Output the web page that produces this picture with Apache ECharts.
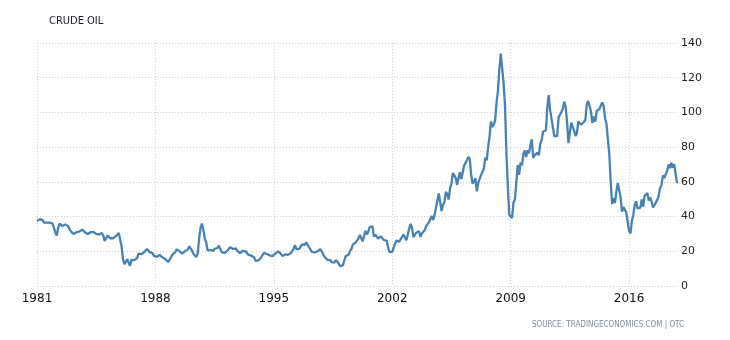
<!DOCTYPE html>
<html>
<head>
<meta charset="utf-8">
<script src="https://cdn.jsdelivr.net/npm/echarts@6/dist/echarts.min.js"></script>
<style>
html, body { margin: 0; padding: 0; background: #fff; }
#main { width: 730px; height: 340px; }
</style>
</head>
<body>
<div id="main"></div>
<script>
// monthly average prices, Jan 1981 .. Nov 2018
var startYear = 1981;
var prices1980s = [
    37.5, 38.5, 38.5, 38.5, 38, 36.5, 36.5, 36.5, 36.5, 36.5, 36.5, 36,
    35, 31, 29, 33.5, 36, 35.5, 34.5, 34.5, 35.5, 35.5, 34.5, 33,
    31.5, 30.5, 30, 30.5, 31, 31.3, 31.3, 32, 32.5, 31.8, 31, 30.5,
    30, 30.5, 31, 31, 31.2, 30.8, 30, 29.6, 29.6, 30, 30.5, 29,
    26, 27.5, 29, 28.5, 27.5, 27, 27.5, 28, 28.7, 29.5, 30.5, 31,
    22.9, 15.5, 12.6, 12.8, 15.4, 13.4, 11.6, 15.1, 14.9, 14.9, 15.2, 16.1,
    18.7, 17.8, 18.3, 18.7, 19.4, 20.1, 21.3, 20.3, 19.5, 19.9, 18.9, 17.3,
    17.1, 16.8, 16.2, 17.9, 17.4, 16.5, 15.5, 15.5, 14.5, 13.8, 14.1, 16.4,
    18.0, 17.9, 19.5, 21.1, 20.1, 20.1, 19.8, 18.6, 19.6, 20.1, 19.9, 21.1
];
var prices1990s = [
    22.9, 22.1, 20.4, 18.4, 18.2, 16.7, 18.5, 27.3, 33.5, 36.0, 32.3, 27.3,
    25.2, 20.5, 19.9, 20.8, 21.2, 20.2, 21.4, 21.7, 21.9, 23.2, 22.5, 19.5,
    18.8, 19.0, 18.9, 20.2, 21.0, 22.4, 21.8, 21.3, 21.9, 21.7, 20.3, 19.4,
    19.0, 20.1, 20.3, 20.3, 20.0, 19.1, 17.9, 18.0, 17.5, 18.2, 16.6, 14.5,
    15.0, 14.8, 14.7, 16.4, 17.9, 19.1, 19.7, 18.4, 17.5, 17.7, 18.1, 17.2,
    18.0, 18.6, 18.5, 19.9, 19.7, 18.5, 17.3, 18.0, 18.2, 17.4, 18.0, 19.0,
    18.9, 19.1, 21.3, 23.5, 21.2, 20.4, 21.3, 21.9, 24.0, 24.9, 23.7, 25.2,
    25.1, 22.2, 21.0, 19.7, 20.8, 19.3, 19.7, 20.0, 19.8, 21.3, 20.2, 18.3,
    16.7, 16.1, 15.1, 15.4, 14.9, 13.7, 14.2, 13.5, 15.0, 14.5, 13.0, 11.4,
    12.5, 12.0, 14.7, 17.3, 17.7, 17.9, 20.1, 21.3, 23.8, 22.7, 25.0, 26.1
];
var prices2000s = [
    27.3, 29.4, 29.8, 25.7, 28.8, 31.8, 29.7, 31.3, 33.9, 33.1, 34.4, 28.4,
    29.6, 29.6, 27.3, 27.5, 28.6, 27.6, 26.4, 27.4, 26.2, 22.2, 19.6, 19.4,
    19.7, 20.7, 24.5, 26.2, 27.0, 25.5, 27.0, 28.4, 29.7, 28.8, 26.4, 29.5,
    33.0, 35.8, 33.5, 28.2, 28.1, 30.7, 30.8, 31.6, 28.3, 30.3, 31.1, 32.1,
    34.3, 34.7, 36.7, 36.8, 40.3, 38.0, 40.8, 44.9, 45.9, 53.3, 48.5, 43.2,
    46.8, 48.2, 54.2, 53.0, 49.8, 56.4, 59.0, 65.0, 65.6, 62.3, 58.3, 59.4,
    65.5, 61.6, 62.7, 69.4, 70.8, 71.0, 74.4, 73.0, 63.8, 58.9, 59.1, 62.0,
    54.5, 59.3, 60.4, 64.0, 63.5, 67.5, 74.1, 72.4, 79.9, 85.8, 94.8, 91.7,
    93.0, 95.4, 105.6, 112.6, 125.4, 133.9, 133.4, 116.6, 103.9, 76.7, 57.4, 41.0,
    41.7, 39.2, 48.0, 49.8, 59.2, 69.7, 64.1, 71.1, 69.5, 75.8, 78.1, 74.3
];
var prices2010s = [
    78.2, 76.4, 81.2, 84.5, 73.8, 75.4, 76.4, 76.8, 75.3, 81.9, 84.1, 89.0,
    89.4, 89.6, 102.9, 110.0, 101.3, 96.3, 97.3, 86.3, 85.5, 86.3, 97.2, 98.6,
    100.3, 102.2, 106.2, 103.3, 94.7, 82.3, 87.9, 94.1, 94.5, 89.5, 86.5, 87.9,
    94.8, 95.3, 92.9, 92.0, 94.5, 95.8, 104.7, 106.6, 106.3, 100.5, 93.9, 97.6,
    94.6, 100.8, 100.8, 102.1, 102.2, 105.8, 103.6, 96.5, 93.2, 84.4, 75.8, 59.3,
    47.2, 50.6, 47.8, 54.5, 59.3, 59.8, 50.9, 42.9, 45.5, 46.2, 42.4, 37.2,
    31.7, 30.3, 37.6, 40.8, 46.7, 48.8, 44.7, 44.7, 45.2, 49.8, 45.7, 52.0,
    52.5, 53.5, 49.3, 51.1, 48.5, 45.2, 46.6, 48.0, 49.8, 51.6, 56.6, 57.9,
    63.7, 62.2, 62.7, 66.3, 70.0, 67.9, 71.0, 68.1, 70.2, 70.8, 59.3
];
var yTicks = [0, 20, 40, 60, 80, 100, 120, 140];
var yearStep = 7;

var allPrices = prices1980s.concat(prices1990s, prices2000s, prices2010s);
var seriesData = allPrices.map(function (v, i) {
    return [startYear + i / 12, v];
});
var lastX = seriesData[seriesData.length - 1][0];

var myChart = echarts.init(document.getElementById('main'));
var option = {
    backgroundColor: '#ffffff',
    animation: false,
    title: {
        text: 'CRUDE OIL',
        left: 44,
        top: 11,
        textStyle: {
            fontFamily: 'DejaVu Sans Condensed',
            fontSize: 11,
            fontWeight: 'normal',
            color: '#1d1d2b'
        }
    },
    graphic: [{
        type: 'text',
        right: 46,
        top: 321,
        style: {
            text: 'SOURCE: TRADINGECONOMICS.COM | OTC',
            font: '8px "DejaVu Sans Condensed"',
            fill: '#7f8d9b'
        }
    }],
    grid: {
        left: 37,
        right: 53,
        top: 43,
        bottom: 54
    },
    xAxis: {
        type: 'value',
        min: startYear,
        max: lastX,
        interval: yearStep,
        axisLine: { show: false },
        axisTick: { show: false },
        axisLabel: {
            showMaxLabel: false,
            margin: 7,
            fontFamily: 'DejaVu Sans',
            fontSize: 12,
            color: '#111',
            formatter: function (v) { return String(Math.round(v)); }
        },
        splitLine: {
            show: true,
            showMaxLine: false,
            lineStyle: { color: '#cfcfcf', type: [1, 2], width: 1 }
        }
    },
    yAxis: {
        type: 'value',
        position: 'right',
        min: yTicks[0],
        max: yTicks[yTicks.length - 1],
        interval: 20,
        axisLine: { show: false },
        axisTick: { show: false },
        axisLabel: {
            margin: 4,
            fontFamily: 'DejaVu Sans',
            fontSize: 11,
            color: '#222'
        },
        splitLine: {
            lineStyle: { color: '#cfcfcf', type: [1, 2], width: 1 }
        }
    },
    series: [{
        type: 'line',
        data: seriesData,
        showSymbol: false,
        lineStyle: { color: '#4682b4', width: 2.3 },
        itemStyle: { color: '#4682b4' }
    }]
};
myChart.setOption(option);
</script>
</body>
</html>
